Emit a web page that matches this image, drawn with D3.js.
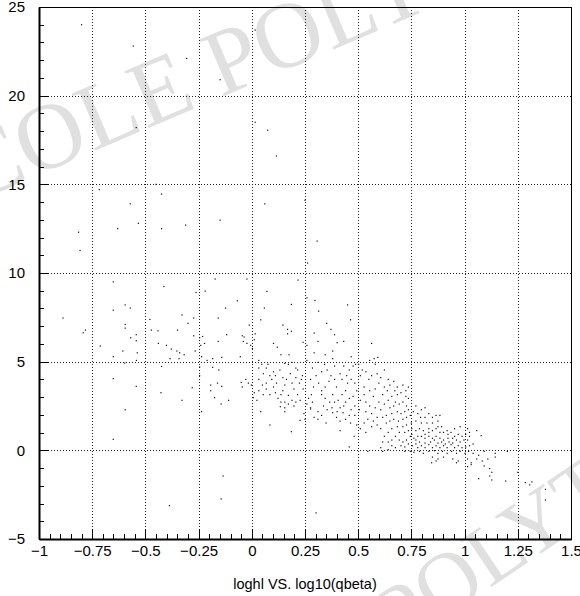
<!DOCTYPE html>
<html>
<head>
<meta charset="utf-8">
<script src="https://cdn.jsdelivr.net/npm/d3@7"></script>
<style>
html,body{margin:0;padding:0;background:#fff;}
svg{display:block;}
</style>
</head>
<body>
<svg id="chart" width="580" height="596"></svg>
<script>
// ---- data (x = log10(qbeta), y = loghl) ----
const sparsePoints = [
[-0.8,24.0],[-0.557,22.8],[-0.306,22.1],[-0.149,20.9],[0.016,23.7],[-0.543,18.2],[0.016,18.5],[0.075,18.05],[0.116,16.6],[-0.717,14.7],[-0.45,15.0],[-0.424,14.45],[-0.571,13.9],[0.061,13.9],[-0.149,12.98],[-0.814,12.3],[-0.63,12.5],[-0.533,12.8],[-0.424,12.5],[-0.311,12.7],[0.25,14.1],[0.307,11.8],[0.262,10.56],[-0.807,11.27],[-0.651,9.5],[-0.413,9.24],[-0.172,9.66],[-0.023,9.66],[0.217,9.6],[-0.219,8.98],[-0.262,8.9],[0.071,8.96],[0.259,8.6],[-0.068,8.43],[0.45,8.2],[0.186,8.23],[0.297,8.45],[-0.123,8.02],[-0.595,8.2],[-0.571,8.02],[-0.651,7.9],[-0.887,7.46],[0.314,7.85],[0.059,8.02],[-0.328,7.63],[-0.158,7.46],[-0.273,7.46],[-0.479,7.38],[0.042,7.36],[-0.595,7.1],[-0.3,7.16],[0.146,7.06],[0.464,7.36],[0.352,7.16],[-0.012,7.06],[-0.349,6.78],[-0.782,6.78],[-0.792,6.63],[-0.595,6.89],[-0.472,6.78],[-0.441,6.74],[-0.273,6.46],[-0.118,6.52],[-0.045,6.46],[-0.036,6.39],[0.016,6.57],[0.168,6.82],[0.186,6.71],[0.168,6.57],[0.293,6.61],[0.372,6.82],[0.389,6.52],[-0.543,6.52],[-0.569,6.35],[-0.245,6.35],[-0.231,6.42],[-0.712,5.88],[-0.543,6.18],[-0.439,6.03],[-0.401,5.92],[-0.378,5.71],[-0.352,5.6],[-0.339,5.5],[-0.318,5.39],[-0.266,5.6],[-0.24,5.92],[-0.222,6.03],[-0.158,6.14],[-0.04,6.14],[-0.023,6.03],[-0.005,5.92],[0.003,5.75],[0.012,6.24],[0.102,6.03],[0.12,5.82],[0.137,5.39],[0.175,5.39],[0.241,6.09],[0.401,6.07],[0.563,6.03],[-0.606,5.6],[-0.538,5.5],[-0.651,5.28],[-0.597,4.92],[-0.542,5.07],[-0.424,4.73],[-0.384,5.17],[-0.342,5.17],[-0.236,5.28],[-0.21,5.07],[-0.184,5.17],[-0.141,5.24],[-0.054,5.28],[0.033,5.07],[0.047,4.85],[0.068,4.64],[0.102,4.43],[0.155,4.9],[0.189,4.96],[0.207,4.64],[0.238,4.21],[0.311,4.96],[0.342,4.85],[0.38,5.17],[0.432,4.75],[0.458,4.53],[0.488,4.85],[0.519,4.53],[0.575,5.17],[0.592,5.24],[-0.184,4.68],[-0.155,4.53],[-0.245,4.7],[-0.245,4.21],[-0.193,3.68],[-0.161,3.79],[-0.193,3.36],[-0.141,3.61],[-0.28,3.53],[-0.427,3.25],[-0.651,4.04],[-0.543,3.61],[-0.328,2.82],[-0.144,2.61],[-0.109,2.82],[-0.175,2.97],[-0.236,2.18],[-0.595,2.29],[-0.651,0.62],[0.085,1.43],[0.186,1.05],[-0.135,-1.45],[-0.144,-2.74],[-0.387,-3.12],[0.302,-3.53],[0.458,0.19],[0.545,-0.06]
];
const clusterLeft = [
[-0.05,3.83],[-0.045,3.57],[-0.016,3.79],[-0.028,4.0],[-0.002,3.68],[0.007,2.97],[0.012,3.25],[0.033,3.36],[0.054,3.14],[0.068,3.46],[0.05,3.68],[0.068,3.79],[0.094,4.0],[0.111,4.21],[0.116,3.79],[0.111,3.25],[0.085,3.14],[0.123,2.93],[0.137,2.72],[0.146,3.36],[0.155,3.68],[0.163,4.0],[0.181,4.32],[0.189,3.79],[0.198,3.46],[0.172,3.1],[0.189,2.82],[0.198,2.5],[0.155,2.4],[0.134,2.46],[0.155,2.18],[0.215,3.14],[0.224,3.79],[0.233,4.0],[0.241,3.46],[0.227,2.82],[0.207,2.72],[0.259,2.61],[0.276,2.4],[0.267,2.93],[0.28,3.14],[0.29,3.57],[0.276,4.0],[0.302,4.21],[0.314,3.79],[0.328,3.36],[0.345,2.93],[0.345,3.57],[0.363,3.89],[0.372,4.21],[0.389,4.0],[0.398,3.57],[0.38,3.14],[0.366,2.72],[0.389,2.72],[0.406,2.82],[0.415,2.4],[0.432,2.5],[0.441,2.72],[0.424,3.14],[0.441,3.36],[0.458,2.93],[0.467,2.29],[0.484,2.5],[0.476,3.04],[0.493,3.36],[0.45,3.79],[0.424,4.0],[0.467,4.0],[0.484,3.79],[0.311,2.18],[0.328,1.97],[0.354,2.29],[0.38,2.12],[0.398,1.86],[0.415,1.65],[0.441,1.75],[0.458,1.97],[0.311,1.75],[0.349,1.54],[0.415,1.11],[0.293,1.86],[0.25,1.75],[0.227,1.69],[0.276,2.33],[0.285,2.72],[0.337,2.5],[0.328,3.14],[0.377,2.4],[0.401,2.18],[0.429,2.12],[0.464,1.54],[0.481,0.79],[0.493,1.43],[0.484,1.97],
[0.259,5.07],[0.285,4.64],[0.328,4.43],[0.354,4.53],[0.389,4.75],[0.415,4.32],[0.446,4.21],[0.467,5.28],[0.476,4.75],[0.38,5.6],[0.345,5.39],[0.293,5.5],[0.259,5.92],[0.311,6.14],[0.432,6.14],
[0.033,4.64],[0.054,4.32],[0.076,4.85],[0.085,4.21],[0.132,4.53],[0.146,4.1],[0.172,4.85],[0.207,4.1],[0.215,4.53],[0.137,3.14],[0.155,2.72],[0.172,2.61],[0.245,2.07],[0.033,4.0],[0.024,2.82],[0.102,3.57],[0.042,2.18]
];
const clusterMid = [
[0.505,2.29],[0.51,2.82],[0.528,3.14],[0.528,3.57],[0.55,4.0],[0.563,4.21],[0.554,3.36],[0.571,3.04],[0.58,3.46],[0.597,3.79],[0.606,4.1],[0.615,3.14],[0.623,3.57],[0.637,3.36],[0.649,3.68],[0.658,3.04],[0.672,3.36],[0.684,3.14],[0.701,3.25],[0.724,3.36],[0.724,3.04],[0.536,2.72],[0.554,2.5],[0.536,2.18],[0.563,2.07],[0.58,2.4],[0.597,2.72],[0.606,2.29],[0.623,2.61],[0.641,2.82],[0.649,2.4],[0.667,2.5],[0.675,2.72],[0.693,2.61],[0.71,2.72],[0.727,2.5],[0.736,2.29],[0.719,2.18],[0.701,2.07],[0.684,2.18],[0.658,2.07],[0.632,1.97],[0.615,1.86],[0.589,1.86],[0.571,1.65],[0.545,1.75],[0.528,1.54],[0.51,1.22],[0.536,1.01],[0.563,1.33],[0.589,1.43],[0.606,1.22],[0.632,1.54],[0.649,1.65],[0.667,1.75],[0.689,1.65],[0.71,1.75],[0.727,1.86],[0.745,1.97],[0.759,2.18],[0.771,2.5],[0.78,2.07],[0.797,2.29],[0.814,2.4],[0.793,1.86],[0.814,1.86],[0.832,2.07],[0.849,1.86],[0.866,1.97],[0.884,1.97],[0.875,1.65],[0.849,1.54],[0.823,1.54],[0.797,1.54],[0.771,1.65],[0.75,1.54],[0.727,1.43],[0.71,1.33],[0.684,1.33],[0.658,1.22],[0.641,1.01],[0.623,0.79],[0.615,0.47],[0.606,0.15],[0.641,0.47],[0.658,0.58],[0.675,0.79],[0.693,1.01],[0.719,1.01],[0.736,1.11],[0.752,1.22],[0.771,1.11],[0.788,1.22],[0.806,1.11],[0.832,1.22],[0.849,1.11],[0.866,1.22],[0.892,1.33],[0.901,1.01],[0.918,1.11],[0.936,1.01],[0.953,0.79],[0.97,0.9],[0.988,0.79],[1.005,0.9],[1.023,0.79],[1.014,0.58],[1.057,1.11],[1.078,0.83],
[0.502,4.85],[0.51,4.21],[0.536,4.43],[0.554,5.07],[0.58,4.85],[0.589,4.32],[0.623,4.53],[0.641,4.0],[0.667,3.89],[0.684,3.57],[0.71,3.68],[0.736,2.93],[0.736,3.57]
];
const clusterRight = [
[0.997,0.58],[0.979,0.47],[0.962,0.58],[0.944,0.68],[0.922,0.68],[0.901,0.58],[0.884,0.68],[0.866,0.79],[0.849,0.68],[0.832,0.79],[0.814,0.68],[0.797,0.79],[0.78,0.79],[0.762,0.68],[0.745,0.79],[0.727,0.58],[0.71,0.47],[0.693,0.58],[0.701,0.26],[0.719,0.19],[0.736,0.36],[0.754,0.26],[0.771,0.36],[0.78,0.15],[0.797,0.26],[0.814,0.15],[0.832,0.32],[0.849,0.15],[0.866,0.26],[0.884,0.15],[0.901,0.26],[0.918,0.15],[0.936,0.32],[0.953,0.15],[0.97,0.26],[0.988,0.15],[1.005,0.19],[1.023,0.26],[1.04,0.36],[0.719,-0.06],[0.745,-0.06],[0.762,-0.11],[0.788,-0.06],[0.806,-0.17],[0.832,-0.06],[0.858,-0.02],[0.875,-0.17],[0.896,-0.06],[0.918,-0.17],[0.939,-0.06],[0.962,-0.17],[0.979,-0.06],[1.002,-0.17],[1.019,-0.06],[1.04,-0.17],[1.066,-0.28],[1.092,-0.06],[0.849,-0.38],[0.875,-0.49],[0.901,-0.38],[0.944,-0.49],[0.97,-0.6],[1.014,-0.49],[1.031,-0.7],[1.057,-0.49],[1.083,-0.6],[1.109,-0.49],[1.144,-0.38],[1.144,-0.17],[0.845,-0.7],[0.866,-0.6],[0.962,-0.7],[1.014,-0.92],[1.031,-0.81],[1.092,-0.88],[1.118,-1.03],[1.128,-1.24],[1.118,-1.45],[1.128,-1.67],[1.066,-1.6],[1.193,-1.73],[1.201,-0.06],[1.25,-1.24],[1.285,-1.82],[1.306,-1.95],[1.316,-1.78],[1.38,-2.2],[1.38,-2.8],
[0.979,1.33],[0.953,1.22],[1.014,1.22],[1.023,1.01],[0.922,0.9],[0.884,1.01],[0.875,1.33],[0.832,1.01],[0.814,0.9],[0.752,0.9],[0.771,0.58],[0.84,0.47],[0.858,0.58],[0.892,0.47],[0.927,0.47],[0.944,0.41],[0.909,0.36],[0.875,0.41],[0.814,0.41],[0.788,0.47],[0.658,0.26],[0.615,-0.06],[0.641,0.04],[0.675,0.15]
];
const xTickValues = [-1,-0.75,-0.5,-0.25,0,0.25,0.5,0.75,1,1.25,1.5];
const xTickLabels = ["\u22121","\u22120.75","\u22120.5","\u22120.25","0","0.25","0.5","0.75","1","1.25","1.5"];
const yTickValues = [-5,0,5,10,15,20,25];
const yTickLabels = ["\u22125","0","5","10","15","20","25"];
const titleText = "loghl VS. log10(qbeta)";
const watermarkText = "ECOLE POLYTECHNIQUE";

// ---- drawing ----
const svg = d3.select("#chart");
const x = d3.scaleLinear().domain([-1, 1.5]).range([39, 571]);
const y = d3.scaleLinear().domain([-5, 25]).range([539, 7]);

// watermark
const wm = svg.append("g").attr("font-family", "'Liberation Serif','Times New Roman',serif")
  .attr("fill", "#e0e0e0");
wm.append("text").attr("transform", "translate(-80,225) rotate(-23)")
  .attr("font-size", 94).text(watermarkText);
wm.append("text").attr("transform", "translate(398,650) rotate(-34)")
  .attr("font-size", 86).text("POLYTECHNIQUE");

// grid
const grid = svg.append("g").attr("stroke", "#222").attr("stroke-width", 1)
  .attr("stroke-dasharray", "1,2").attr("shape-rendering", "crispEdges");
grid.selectAll("line.gx").data(xTickValues.slice(1, -1)).join("line")
  .attr("x1", d => Math.round(x(d)) + 0.5).attr("x2", d => Math.round(x(d)) + 0.5)
  .attr("y1", y(25)).attr("y2", y(-5));
grid.selectAll("line.gy").data(yTickValues.slice(1, -1)).join("line")
  .attr("y1", d => Math.round(y(d)) + 0.5).attr("y2", d => Math.round(y(d)) + 0.5)
  .attr("x1", x(-1)).attr("x2", x(1.5));

// frame (top/right thin)
svg.append("rect").attr("x", x(-1) + 0.5).attr("y", y(25) + 0.5)
  .attr("width", x(1.5) - x(-1)).attr("height", y(-5) - y(25))
  .attr("fill", "none").attr("stroke", "#000").attr("stroke-width", 1)
  .attr("shape-rendering", "crispEdges");

// points
const allPoints = sparsePoints.concat(clusterLeft, clusterMid, clusterRight);
svg.append("g").selectAll("rect").data(allPoints).join("rect")
  .attr("x", d => x(d[0]) - 0.6).attr("y", d => y(d[1]) - 0.6)
  .attr("width", 1.2).attr("height", 1.2).attr("fill", "#111");

// axes
const fontFam = "'Liberation Sans', Arial, Helvetica, sans-serif";
const xMinor = d3.range(-1, 1.5001, 0.05).map(v => +v.toFixed(2));
const yMinor = d3.range(-5, 25.001, 1);

const gx = svg.append("g").attr("transform", `translate(0,${y(-5)})`);
gx.call(d3.axisBottom(x).tickValues(xMinor).tickSize(-5).tickSizeOuter(0).tickFormat(""));
gx.call(g => g.select(".domain").remove());
const gx2 = svg.append("g").attr("transform", `translate(0,${y(-5)})`);
gx2.call(d3.axisBottom(x).tickValues(xTickValues).tickSize(-10).tickSizeOuter(0).tickPadding(6)
  .tickFormat((d, i) => xTickLabels[i]));
gx2.select(".domain").attr("stroke-width", 2);

const gy = svg.append("g").attr("transform", `translate(${x(-1)},0)`);
gy.call(d3.axisLeft(y).tickValues(yMinor).tickSize(-5).tickSizeOuter(0).tickFormat(""));
gy.call(g => g.select(".domain").remove());
const gy2 = svg.append("g").attr("transform", `translate(${x(-1)},0)`);
gy2.call(d3.axisLeft(y).tickValues(yTickValues).tickSize(-10).tickSizeOuter(0).tickPadding(14)
  .tickFormat((d, i) => yTickLabels[i]));
gy2.select(".domain").attr("stroke-width", 2);

svg.selectAll(".tick line").attr("stroke", "#000").attr("shape-rendering", "crispEdges");
svg.selectAll(".tick text").attr("font-family", fontFam).attr("font-size", 15).attr("fill", "#000");

// title
svg.append("text").attr("x", 305).attr("y", 589).attr("text-anchor", "middle")
  .attr("font-family", fontFam).attr("font-size", 14.5).attr("fill", "#000").text(titleText);
</script>
</body>
</html>
